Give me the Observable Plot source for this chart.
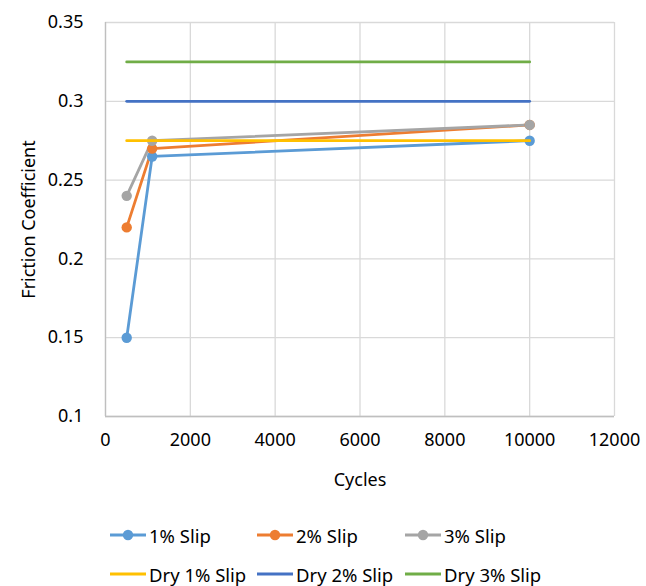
<!DOCTYPE html>
<html>
<head>
<meta charset="utf-8">
<script src="https://cdn.jsdelivr.net/npm/d3@7"></script>
<script src="https://cdn.jsdelivr.net/npm/@observablehq/plot@0.6"></script>
<style>
  body { margin: 0; background: #fff; font-family: "Noto Sans", "Open Sans", sans-serif; }
  #chart { position: relative; width: 646px; height: 586px; }
  .legend { position: absolute; left: 0; width: 646px; font-size: 18.5px; color: #000; }
  .item { position: absolute; display: flex; align-items: center; white-space: nowrap; }
  .item svg { margin-right: 3px; }
</style>
</head>
<body>
<div id="chart"></div>
<script>
const cycles = [500, 1100, 10000];
const slip1 = [0.15, 0.265, 0.275];
const slip2 = [0.22, 0.27, 0.285];
const slip3 = [0.24, 0.275, 0.285];
const dryCycles = [500, 10000];
const dry1 = [0.275, 0.275];
const dry2 = [0.3, 0.3];
const dry3 = [0.325, 0.325];
const xTicks = [0, 2000, 4000, 6000, 8000, 10000, 12000];
const yTicks = [0.1, 0.15, 0.2, 0.25, 0.3, 0.35];

const seriesNames = ["1% Slip", "2% Slip", "3% Slip", "Dry 1% Slip", "Dry 2% Slip", "Dry 3% Slip"];
const colors = ["#5B9BD5", "#ED7D31", "#A5A5A5", "#FFC000", "#4472C4", "#70AD47"];

const slipData = [slip1, slip2, slip3].flatMap((s, i) =>
  s.map((v, j) => ({series: seriesNames[i], x: cycles[j], y: v})));
const dryData = [dry1, dry2, dry3].flatMap((s, i) =>
  s.map((v, j) => ({series: seriesNames[i + 3], x: dryCycles[j], y: v})));

const color = {domain: seriesNames, range: colors};
const FS = 18;

const plot = Plot.plot({
  width: 646,
  height: 500,
  marginLeft: 105,
  marginRight: 32,
  marginTop: 22,
  marginBottom: 84,
  style: {fontFamily: "'Noto Sans', 'Open Sans', sans-serif", fontSize: FS + "px", color: "#000"},
  x: {domain: [0, 12000]},
  y: {domain: [0.1, 0.35]},
  color: color,
  marks: [
    Plot.gridX(xTicks, {stroke: "#d9d9d9", strokeOpacity: 1, strokeWidth: 1.3}),
    Plot.gridY(yTicks, {stroke: "#d9d9d9", strokeOpacity: 1, strokeWidth: 1.3}),
    Plot.ruleX([0], {stroke: "#bfbfbf", strokeWidth: 1.3}),
    Plot.ruleY([0.1], {stroke: "#bfbfbf", strokeWidth: 1.3}),
    Plot.axisX(xTicks, {tickFormat: d => String(d), tickSize: 0, tickPadding: 17, fontSize: FS,
      label: "Cycles", labelAnchor: "center", labelArrow: "none", labelOffset: 69}),
    Plot.axisY(yTicks, {tickFormat: d => String(+d.toFixed(2)), tickSize: 0, tickPadding: 22, fontSize: FS,
      label: "Friction Coefficient", labelAnchor: "center", labelArrow: "none", labelOffset: 83}),
    Plot.line(slipData, {x: "x", y: "y", z: "series", stroke: "series", strokeWidth: 2.8}),
    Plot.dot(slipData, {x: "x", y: "y", fill: "series", r: 5.2}),
    Plot.line(dryData, {x: "x", y: "y", z: "series", stroke: "series", strokeWidth: 2.8})
  ]
});
document.getElementById("chart").appendChild(plot);

// legend
const legend = document.createElement("div");
legend.className = "legend";
legend.style.top = "0px";
const colX = [110, 257, 405];
const rowY = [535, 574];
seriesNames.forEach((name, i) => {
  const item = document.createElement("div");
  item.className = "item";
  item.style.left = colX[i % 3] + "px";
  item.style.top = (rowY[Math.floor(i / 3)] - 13) + "px";
  item.style.height = "26px";
  const marker = i < 3 ? `<circle cx="18" cy="6" r="5.2" fill="${colors[i]}"/>` : "";
  item.innerHTML = `<svg width="36" height="12"><line x1="0" x2="36" y1="6" y2="6" stroke="${colors[i]}" stroke-width="2.8"/>${marker}</svg><span>${name}</span>`;
  legend.appendChild(item);
});
document.getElementById("chart").appendChild(legend);
</script>
</body>
</html>
